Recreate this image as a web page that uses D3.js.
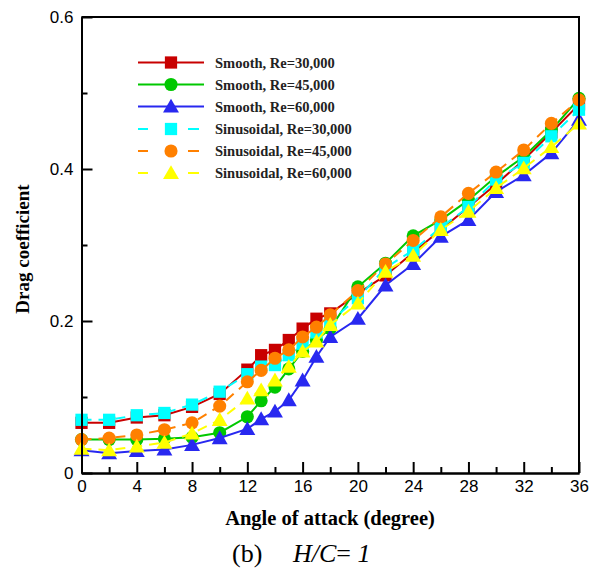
<!DOCTYPE html>
<html><head><meta charset="utf-8">
<script src="https://cdn.jsdelivr.net/npm/d3@7"></script>
<style>body{margin:0;background:#fff}svg{display:block}</style>
</head><body>
<svg id="c" width="597" height="569"></svg>
<script>
const angles = [0,2,4,6,8,10,12,13,14,15,16,17,18,20,22,24,26,28,30,32,34,36];
const smooth30 = [0.066,0.066,0.073,0.076,0.087,0.104,0.136,0.155,0.162,0.175,0.19,0.203,0.21,0.236,0.26,0.29,0.32,0.35,0.38,0.412,0.448,0.485];
const smooth45 = [0.044,0.044,0.044,0.045,0.047,0.053,0.074,0.095,0.113,0.137,0.16,0.175,0.19,0.245,0.276,0.312,0.333,0.359,0.39,0.416,0.451,0.493];
const smooth60 = [0.030,0.026,0.029,0.031,0.037,0.046,0.058,0.071,0.081,0.096,0.122,0.153,0.179,0.203,0.247,0.275,0.311,0.333,0.37,0.392,0.421,0.465];
const sinus30 = [0.070,0.070,0.076,0.079,0.090,0.107,0.13,0.14,0.142,0.155,0.17,0.185,0.2,0.23,0.27,0.293,0.323,0.35,0.386,0.408,0.443,0.478];
const sinus45 = [0.044,0.046,0.050,0.057,0.066,0.088,0.12,0.135,0.151,0.162,0.179,0.192,0.208,0.24,0.275,0.306,0.337,0.368,0.396,0.425,0.46,0.491];
const sinus60 = [0.032,0.030,0.035,0.040,0.052,0.070,0.098,0.109,0.122,0.14,0.16,0.173,0.195,0.223,0.265,0.286,0.32,0.344,0.375,0.401,0.429,0.46];
const seriesNames = ["Smooth, Re=30,000","Smooth, Re=45,000","Smooth, Re=60,000","Sinusoidal, Re=30,000","Sinusoidal, Re=45,000","Sinusoidal, Re=60,000"];
const xTicks = [0,4,8,12,16,20,24,28,32,36];
const xMinor = [2,6,10,14,18,22,26,30,34];
const yTicks = [0,0.2,0.4,0.6];
const yTickLabels = ["0","0.2","0.4","0.6"];
const yMinor = [0.1,0.3,0.5];

const styles = [
  {color:"#c80000", sym:"square", dash:null},
  {color:"#00c800", sym:"circle", dash:null},
  {color:"#2828f0", sym:"triangle", dash:null},
  {color:"#00ffff", sym:"square", dash:"10,7"},
  {color:"#ff8000", sym:"circle", dash:"10,7"},
  {color:"#ffff00", sym:"triangle", dash:"10,7"}
];
const values = [smooth30, smooth45, smooth60, sinus30, sinus45, sinus60];

const svg = d3.select("#c");
const L=81.5, R=579, T=17, B=473;
const x = d3.scaleLinear().domain([0,36]).range([L,R]);
const y = d3.scaleLinear().domain([0,0.6]).range([B,T]);

const symType = {square:d3.symbolSquare, circle:d3.symbolCircle, triangle:d3.symbolTriangle};
const symSize = {square:150, circle:135, triangle:110};

const plot = svg.append("g");
values.forEach((vals,i)=>{
  const st = styles[i];
  const pts = angles.map((a,j)=>[a, vals[j]]);
  plot.append("path")
    .attr("d", d3.line().x(d=>x(d[0])).y(d=>y(d[1]))(pts))
    .attr("fill","none").attr("stroke",st.color).attr("stroke-width",2)
    .attr("stroke-dasharray", st.dash);
  plot.selectAll(null).data(pts).enter().append("path")
    .attr("d", d3.symbol().type(symType[st.sym]).size(symSize[st.sym]))
    .attr("transform", d=>`translate(${x(d[0])},${y(d[1]) + (st.sym==="triangle"?1.5:0)})`)
    .attr("fill", st.color);
});

// axes
const xAxis = d3.axisBottom(x).tickValues(xTicks).tickSizeInner(-11).tickSizeOuter(0).tickPadding(7).tickFormat(d3.format("d"));
const gx = svg.append("g").attr("transform",`translate(0,${B})`).call(xAxis);
const xAxisMinor = d3.axisBottom(x).tickValues(xMinor).tickSizeInner(-6).tickSizeOuter(0).tickFormat("");
const gxm = svg.append("g").attr("transform",`translate(0,${B})`).call(xAxisMinor);
const yAxis = d3.axisLeft(y).tickValues(yTicks).tickSizeInner(-11).tickSizeOuter(0).tickPadding(8).tickFormat((d,i)=>yTickLabels[i]);
const gy = svg.append("g").attr("transform",`translate(${L},0)`).call(yAxis);
const yAxisMinor = d3.axisLeft(y).tickValues(yMinor).tickSizeInner(-6).tickSizeOuter(0).tickFormat("");
const gym = svg.append("g").attr("transform",`translate(${L},0)`).call(yAxisMinor);
[gx,gxm,gy,gym].forEach(g=>{
  g.selectAll("path.domain").attr("stroke","#000").attr("stroke-width",2);
  g.selectAll("line").attr("stroke","#000").attr("stroke-width",2);
  g.selectAll("text").attr("font-family","'Liberation Sans', Arial, sans-serif").attr("font-size",17).attr("fill","#000");
});
svg.append("path").attr("d",`M${L},${T}H${R}V${B}`).attr("fill","none").attr("stroke","#000").attr("stroke-width",2);

// legend
const lg = svg.append("g");
const legY = [62.5,84.5,106.5,129,151,173];
styles.forEach((st,i)=>{
  const g = lg.append("g").attr("transform",`translate(0,${legY[i]})`);
  if(st.dash){
    g.append("line").attr("x1",138).attr("x2",148).attr("stroke",st.color).attr("stroke-width",2);
    g.append("line").attr("x1",188).attr("x2",199).attr("stroke",st.color).attr("stroke-width",2);
  } else {
    g.append("line").attr("x1",138).attr("x2",204).attr("stroke",st.color).attr("stroke-width",2);
  }
  g.append("path").attr("d", d3.symbol().type(symType[st.sym]).size(symSize[st.sym])())
    .attr("transform",`translate(171,${st.sym==="triangle"?1.5:0})`).attr("fill",st.color);
  g.append("text").attr("x",215).attr("y",5).text(seriesNames[i])
    .attr("font-family","'Liberation Serif','Times New Roman',serif").attr("font-weight","bold").attr("font-size",14.5).attr("fill","#222");
});

// axis titles
svg.append("text").attr("x",330).attr("y",525).attr("text-anchor","middle")
  .attr("font-family","'Liberation Serif','Times New Roman',serif").attr("font-weight","bold").attr("font-size",20.5)
  .text("Angle of attack (degree)");
svg.append("text").attr("transform","translate(29,249) rotate(-90)").attr("text-anchor","middle")
  .attr("font-family","'Liberation Serif','Times New Roman',serif").attr("font-weight","bold").attr("font-size",19)
  .text("Drag coefficient");
const cap = svg.append("text").attr("y",562)
  .attr("font-family","'Liberation Serif','Times New Roman',serif").attr("font-size",26);
cap.append("tspan").attr("x",232).text("(b)");
cap.append("tspan").attr("x",293).attr("font-style","italic").text("H/C");
cap.append("tspan").attr("font-style","normal").text("= ");
cap.append("tspan").attr("font-style","italic").text("1");
</script>
</body></html>
